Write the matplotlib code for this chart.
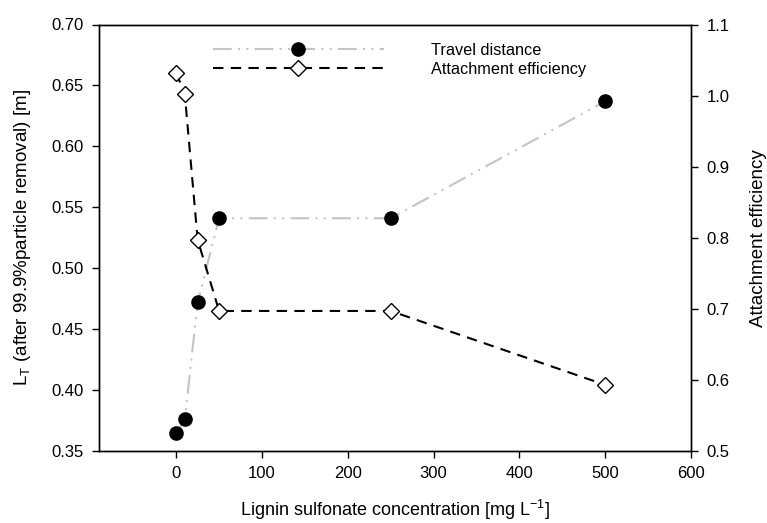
import numpy as np
import matplotlib.pyplot as plt
from matplotlib.lines import Line2D

plt.rcParams['font.family'] = ['Liberation Sans', 'DejaVu Sans']
plt.rcParams['mathtext.fontset'] = 'custom'
plt.rcParams['mathtext.rm'] = 'Liberation Sans'
plt.rcParams['mathtext.it'] = 'Liberation Sans'

# concentration (mg/L)
conc = [0, 10, 25, 50, 250, 500]
# travel distance L_T (m), left axis
travel = [0.365, 0.376, 0.472, 0.541, 0.541, 0.637]
# attachment efficiency, right axis
alpha = [1.032, 1.002, 0.797, 0.697, 0.697, 0.593]

fig = plt.figure(figsize=(7.67, 5.23), dpi=100)
ax = fig.add_axes([99 / 767, 1 - 451 / 523, (691 - 99) / 767, (451 - 24.5) / 523])
ax2 = ax.twinx()

gray = '#c4c4c4'
ax.plot(conc, travel, color=gray, lw=1.5, dashes=[9, 3, 1, 3, 1, 3],
        marker='o', ms=9.5, mfc='black', mec='black', zorder=3)
ax2.plot(conc, alpha, color='black', lw=1.5, dashes=[5, 3.5],
         marker='D', ms=8, mfc='white', mec='black', mew=1.0, zorder=3)

ax.set_xlim(-90, 600)
ax.set_ylim(0.35, 0.70)
ax2.set_ylim(0.5, 1.1)
ax.set_xticks(np.arange(0, 601, 100))
ax.set_yticks(np.arange(0.35, 0.701, 0.05))
ax.set_yticklabels([f'{v:.2f}' for v in np.arange(0.35, 0.701, 0.05)])
ax2.set_yticks(np.arange(0.5, 1.101, 0.1))
ax2.set_yticklabels([f'{v:.1f}' for v in np.arange(0.5, 1.101, 0.1)])

for a in (ax, ax2):
    a.tick_params(direction='out', length=5, width=1, labelsize=12, pad=6)
    for s in a.spines.values():
        s.set_linewidth(1)

ax.set_xlabel('Lignin sulfonate concentration [mg L$^{-1}$]', fontsize=13, labelpad=12)
ax.set_ylabel('L$_T$ (after 99.9%particle removal) [m]', fontsize=13.5, labelpad=13)
ax2.set_ylabel('Attachment efficiency', fontsize=13.5, labelpad=15)

handles = [
    Line2D([], [], color=gray, lw=1.5, dashes=[9, 3, 1, 3, 1, 3],
           marker='o', ms=9.5, mfc='black', mec='black'),
    Line2D([], [], color='black', lw=1.5, dashes=[5, 3.5],
           marker='D', ms=8, mfc='white', mec='black'),
]
leg = ax2.legend(handles, ['Travel distance', 'Attachment efficiency'],
                 loc='upper left', bbox_to_anchor=(0.168, 0.992), frameon=False,
                 handlelength=10.5, handletextpad=2.9, numpoints=1,
                 fontsize=11.7, labelspacing=0.25)

fig.savefig('out.png', dpi=100)
